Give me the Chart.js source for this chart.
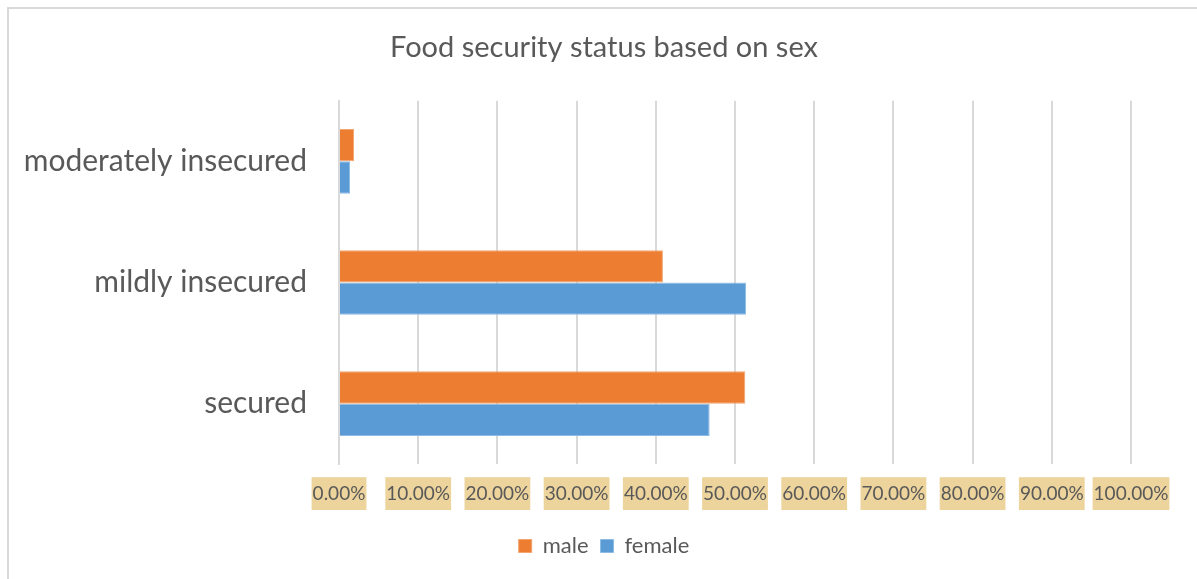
<!DOCTYPE html>
<html>
<head>
<meta charset="utf-8">
<script src="https://cdn.jsdelivr.net/npm/chart.js@4"></script>
<style>
    html, body { margin: 0; padding: 0; background: #fff; overflow: hidden; }
    #wrap { position: relative; width: 1197px; height: 579px; }
    #frame {
        position: absolute; left: 7px; top: 7px; width: 1200px; height: 590px;
        border: 2px solid #d9d9d9; box-sizing: border-box;
    }
    #foodChart { position: absolute; left: 0; top: 0; }
</style>
</head>
<body>
<div id="wrap">
    <div id="frame"></div>
    <canvas id="foodChart" width="1197" height="579"></canvas>
</div>
<script>
const categories = ['moderately insecured', 'mildly insecured', 'secured'];
const maleShare = [0.019, 0.409, 0.513];
const femaleShare = [0.014, 0.514, 0.468];
const tickValues = [0, 0.1, 0.2, 0.3, 0.4, 0.5, 0.6, 0.7, 0.8, 0.9, 1.0];

const FONT = 'Lato, "Open Sans", sans-serif';

// title and legend are centred between x = 77 and the right edge of the plot
const centreBlocks = {
    id: 'centreBlocks',
    afterLayout(chart) {
        const left = 77, right = chart.chartArea.right;
        [chart.titleBlock, chart.legend].forEach(b => {
            if (b) { b.left = left; b.right = right; }
        });
    }
};

new Chart(document.getElementById('foodChart'), {
    type: 'bar',
    data: {
        labels: categories,
        datasets: [{
            label: 'male',
            data: maleShare,
            backgroundColor: '#ED7D31',
            borderColor: '#F3A46F',
            borderWidth: 1,
            barPercentage: 1,
            categoryPercentage: 0.533
        }, {
            label: 'female',
            data: femaleShare,
            backgroundColor: '#5B9BD5',
            borderColor: '#8DBBE4',
            borderWidth: 1,
            barPercentage: 1,
            categoryPercentage: 0.533
        }]
    },
    plugins: [centreBlocks],
    options: {
        indexAxis: 'y',
        responsive: false,
        animation: false,
        layout: { padding: { left: 0, right: 66, top: 2, bottom: 12 } },
        scales: {
            x: {
                min: 0,
                max: 1,
                afterBuildTicks: s => { s.ticks = tickValues.map(v => ({ value: v })); },
                grid: { color: '#d9d9d9', lineWidth: 2, drawTicks: false },
                border: { display: false },
                ticks: {
                    padding: 18,
                    color: '#595959',
                    font: { family: FONT, size: 19 },
                    maxRotation: 0,
                    autoSkip: false,
                    showLabelBackdrop: true,
                    backdropColor: '#EDD49C',
                    backdropPadding: { x: 1, y: 5 },
                    callback: v => (v * 100).toFixed(2) + '%'
                }
            },
            y: {
                grid: { display: false },
                border: { color: '#d9d9d9', width: 2 },
                afterFit: s => { s.width = 339; },
                ticks: {
                    padding: 24,
                    color: '#595959',
                    font: { family: FONT, size: 30 }
                }
            }
        },
        plugins: {
            title: {
                display: true,
                text: 'Food security status based on sex',
                color: '#595959',
                font: { family: FONT, size: 29, weight: 'normal' },
                padding: { top: 28, bottom: 36 }
            },
            legend: {
                position: 'bottom',
                labels: {
                    color: '#595959',
                    font: { family: FONT, size: 22 },
                    boxWidth: 13,
                    boxHeight: 13,
                    padding: 12
                }
            },
            tooltip: { enabled: false }
        }
    }
});
</script>
</body>
</html>
